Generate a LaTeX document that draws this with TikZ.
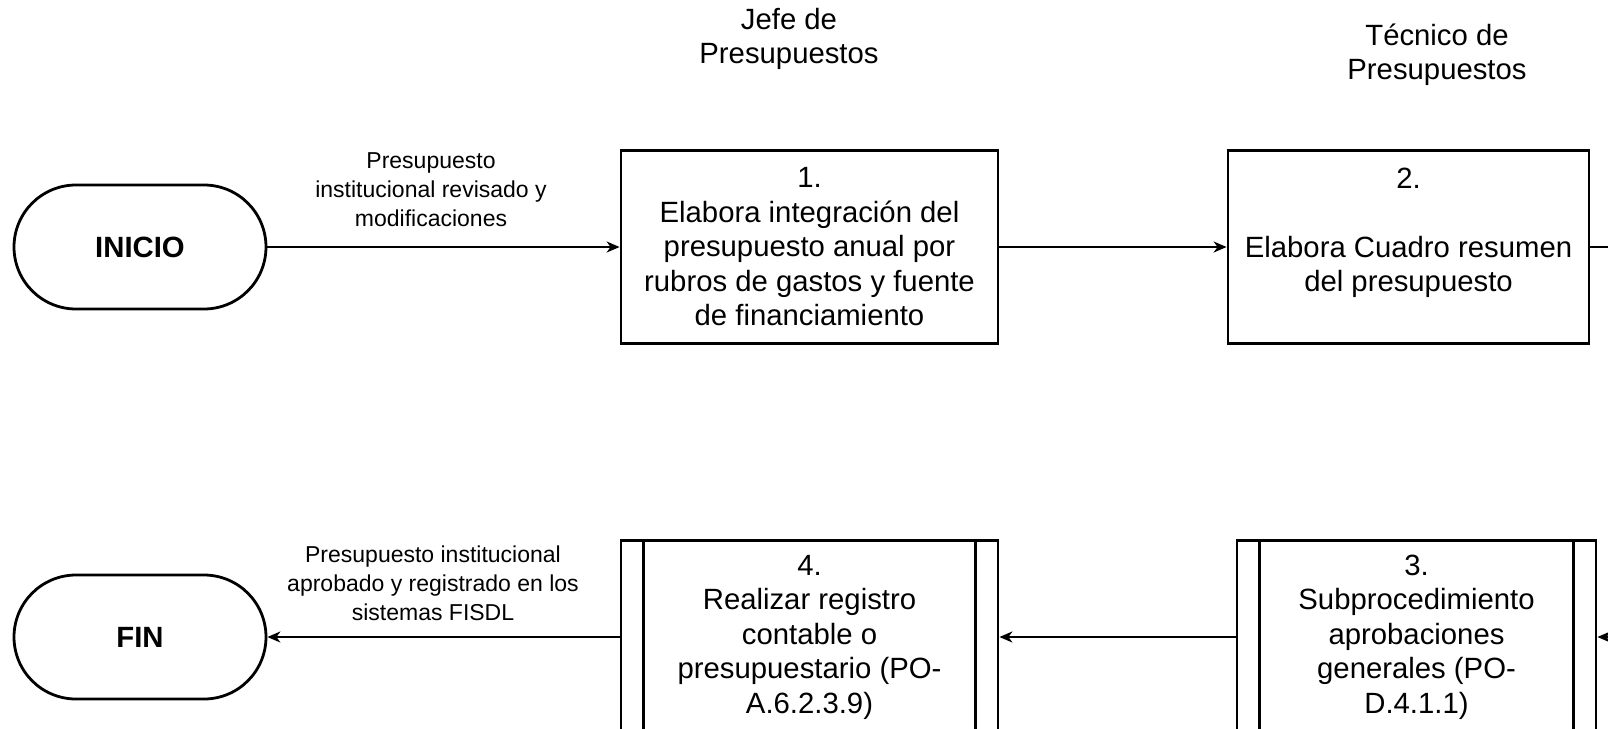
\documentclass[tikz,border=0pt]{standalone}
\usepackage{fontspec}
\setmainfont{Liberation Sans}
\usetikzlibrary{arrows.meta}

\tikzset{
  box/.style={draw, line width=2.8pt, minimum width=377pt, minimum height=193pt, inner sep=0pt, align=center, font=\fontsize{29.3pt}{34.5pt}\selectfont},
  term/.style={draw, line width=2.8pt, rounded corners=62pt, minimum width=252pt, minimum height=124pt, inner sep=0pt, font=\fontsize{29.3pt}{34.5pt}\selectfont\bfseries},
  lane/.style={align=center, font=\fontsize{29.3pt}{33.5pt}\selectfont},
  lbl/.style={align=center, font=\fontsize{23pt}{29pt}\selectfont},
  flow/.style={line width=2pt, -{Stealth[length=13pt, width=11pt, inset=4pt]}},
}

\begin{document}
\begin{tikzpicture}[x=1pt, y=-1pt]
        \useasboundingbox (0,0) rectangle (1608,728);
        \clip (0,0) rectangle (1608,728);

        % lanes
        \node[lane] (jefe) at (789,39) {Jefe de\\Presupuestos};
        \node[lane] (tecnico) at (1437,55) {Técnico de\\Presupuestos};

        % first row
        \node[term] (inicio) at (140,247) {INICIO};
        \node[box] (p1) at (809.5,247) {1.\\Elabora integración del\\presupuesto anual por\\rubros de gastos y fuente\\de financiamiento};
        \node[box, minimum width=361pt] (p2) at (1408.5,247) {2.\\\mbox{}\\Elabora Cuadro resumen\\del presupuesto\\\mbox{}};
        \coordinate (out2) at (1608,247);
        \node[lbl] (lbl1) at (431,190) {Presupuesto\\institucional revisado y\\modificaciones};

        % second row
        \node[box, minimum width=359pt] (p3) at (1416.5,637) {3.\\Subprocedimiento\\aprobaciones\\generales (PO-\\D.4.1.1)};
        \draw[line width=2.8pt] ([xshift=24pt]p3.north west) -- ([xshift=24pt]p3.south west);
        \draw[line width=2.8pt] ([xshift=-24pt]p3.north east) -- ([xshift=-24pt]p3.south east);
        \coordinate (in3) at (1608,637);

        \node[box] (p4) at (809.5,637) {4.\\Realizar registro\\contable o\\presupuestario (PO-\\A.6.2.3.9)};
        \draw[line width=2.8pt] ([xshift=24pt]p4.north west) -- ([xshift=24pt]p4.south west);
        \draw[line width=2.8pt] ([xshift=-24pt]p4.north east) -- ([xshift=-24pt]p4.south east);

        \node[term] (fin) at (140,637) {FIN};
        \node[lbl] (lbl2) at (433,583) {Presupuesto institucional\\aprobado y registrado en los\\sistemas FISDL};

        % connectors
        \draw[flow] (inicio) -- (p1);
        \draw[flow] (p1) -- (p2);
        \draw[line width=2pt] (p2) -- (out2);
        \draw[flow] (in3) -- (p3);
        \draw[flow] (p3) -- (p4);
        \draw[flow] (p4) -- (fin);
    \end{tikzpicture}
\end{document}
